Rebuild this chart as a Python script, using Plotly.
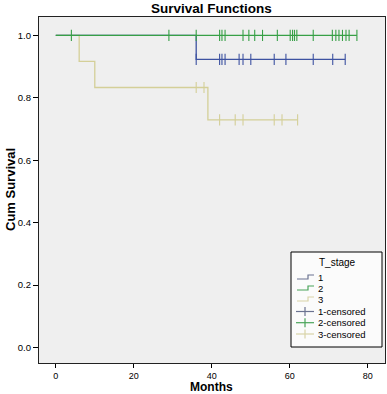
import plotly.graph_objects as go

# ---- data ----
stage_names = ["1", "2", "3"]
# step survival curves (event times and survival after each step)
s1_time = [0, 36, 74.2]
s1_surv = [1.0, 0.923, 0.923]
s2_time = [0, 77.2]
s2_surv = [1.0, 1.0]
s3_time = [0, 6, 10, 39, 62]
s3_surv = [1.0, 0.917, 0.833, 0.729, 0.729]
# censored times
s1_cens = [36, 42, 42.6, 43.4, 47, 48, 50, 56, 59, 66, 71, 74.2]
s2_cens = [4, 29, 36, 42, 42.6, 43.4, 48, 49.5, 51, 53, 56.8, 60.1, 60.7,
           61.2, 61.8, 66, 70.9, 71.8, 72.6, 73.5, 74.4, 75.2, 77.2]
s3_cens = [36, 38, 42, 46, 48, 56, 58, 62]

x_ticks = [0, 20, 40, 60, 80]
y_ticks = [0.0, 0.2, 0.4, 0.6, 0.8, 1.0]

colors = {"1": "#3d52a1", "2": "#37a046", "3": "#d4cf98"}
legend_colors = {"1": "#6b7391", "2": "#4aa45a", "3": "#d9d4a8"}


def step_value(times, surv, t):
    v = surv[0]
    for ti, si in zip(times, surv):
        if ti <= t:
            v = si
    return v


series = {
    "1": (s1_time, s1_surv, s1_cens),
    "2": (s2_time, s2_surv, s2_cens),
    "3": (s3_time, s3_surv, s3_cens),
}

W, H = 387, 394
L, R, T, B = 39, 2, 17, 31
PW, PH = W - L - R, H - T - B


def px(x):
    return (x - L) / PW


def py(y):
    return (H - B - y) / PH


fig = go.Figure()
FONT = "Liberation Sans, Arial, sans-serif"

# draw order: 3, 1, 2 (green on top)
for name in ["3", "1", "2"]:
    t, s, c = series[name]
    fig.add_trace(go.Scatter(
        x=t, y=s, mode="lines", line=dict(color=colors[name], width=1.3, shape="hv"),
        showlegend=False, hoverinfo="skip"))
    fig.add_trace(go.Scatter(
        x=c, y=[step_value(t, s, ci) for ci in c], mode="markers",
        marker=dict(symbol="line-ns-open", size=8, color=colors[name],
                    line=dict(color=colors[name], width=1.1)),
        showlegend=False, hoverinfo="skip"))

shapes = []
annotations = []

# ---- manual legend (SPSS style) ----
lx0, lx1, ly0, ly1 = 291, 382, 252, 347
shapes.append(dict(type="rect", xref="paper", yref="paper",
                   x0=px(lx0), x1=px(lx1), y0=py(ly1), y1=py(ly0),
                   line=dict(color="black", width=1), fillcolor="#fbfbfb", layer="above"))
annotations.append(dict(text="T_stage", xref="paper", yref="paper", x=px(337), y=py(262),
                        xanchor="center", yanchor="middle", showarrow=False,
                        font=dict(family=FONT, size=10, color="black")))
row_y = [277.5, 288.5, 299.5, 311.5, 322.7, 334]
labels = stage_names + [f"{n}-censored" for n in stage_names]
for i, lab in enumerate(labels):
    yy = row_y[i]
    n = lab[0]
    col = legend_colors[n]
    if i < 3:
        path = (f"M {px(297)},{py(yy + 1.5)} L {px(308)},{py(yy + 1.5)} "
                f"L {px(308)},{py(yy - 2.5)} L {px(314)},{py(yy - 2.5)}")
        shapes.append(dict(type="path", xref="paper", yref="paper", path=path,
                           line=dict(color=col, width=1.2), layer="above"))
    else:
        shapes.append(dict(type="line", xref="paper", yref="paper",
                           x0=px(296), x1=px(314), y0=py(yy), y1=py(yy),
                           line=dict(color=col, width=1.2), layer="above"))
        shapes.append(dict(type="line", xref="paper", yref="paper",
                           x0=px(305), x1=px(305), y0=py(yy - 4.5), y1=py(yy + 4.5),
                           line=dict(color=col, width=1.2), layer="above"))
    annotations.append(dict(text=lab, xref="paper", yref="paper", x=px(316), y=py(yy),
                            xanchor="left", yanchor="middle", showarrow=False,
                            font=dict(family=FONT, size=9.5, color="black")))

# titles
annotations.append(dict(text="<b>Survival Functions</b>", xref="paper", yref="paper",
                        x=px(211), y=py(8.5), xanchor="center", yanchor="middle",
                        showarrow=False, font=dict(family=FONT, size=13.5, color="black")))
annotations.append(dict(text="<b>Cum Survival</b>", xref="paper", yref="paper",
                        x=px(10), y=py(190), xanchor="center", yanchor="middle",
                        textangle=-90, showarrow=False,
                        font=dict(family=FONT, size=13, color="black")))
annotations.append(dict(text="<b>Months</b>", xref="paper", yref="paper",
                        x=px(211), y=py(387.3), xanchor="center", yanchor="middle",
                        showarrow=False, borderpad=0,
                        font=dict(family=FONT, size=12, color="black")))

fig.update_layout(
    width=W, height=H,
    margin=dict(l=L, r=R, t=T, b=B, autoexpand=False),
    paper_bgcolor="white",
    plot_bgcolor="#efefef",
    font=dict(family=FONT, color="black", size=10),
    showlegend=False,
    shapes=shapes,
    annotations=annotations,
)

fig.update_xaxes(
    range=[-4.3, 84.4], tickvals=x_ticks, ticktext=[str(v) for v in x_ticks],
    showgrid=False, zeroline=False, automargin=False,
    showline=True, linecolor="#222", linewidth=1.3, mirror=True,
    ticks="outside", ticklen=4, tickcolor="black", tickwidth=1,
    tickfont=dict(family=FONT, size=9, color="black"),
)
fig.update_yaxes(
    range=[-0.05, 1.059], tickvals=y_ticks, ticktext=[f"{v:.1f}" for v in y_ticks],
    showgrid=False, zeroline=False, automargin=False,
    showline=True, linecolor="#222", linewidth=1.3, mirror=True,
    ticks="outside", ticklen=5, tickcolor="black", tickwidth=1,
    tickfont=dict(family=FONT, size=9.5, color="black"),
)

fig.write_html("out.html", config={"displayModeBar": False},
               post_script="document.body.style.margin='0px';document.body.style.overflow='hidden';")
